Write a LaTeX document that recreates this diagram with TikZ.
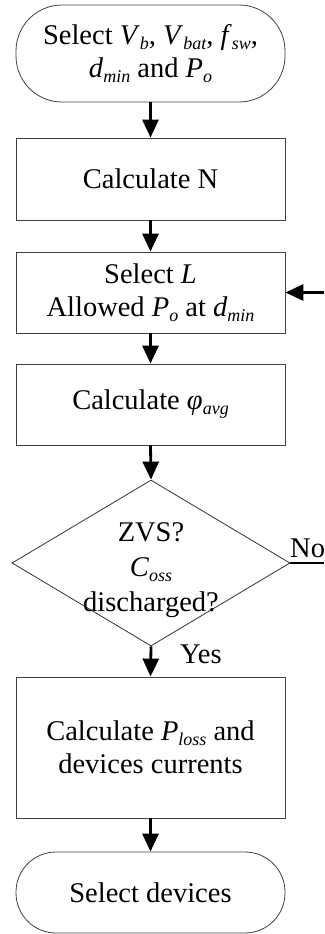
\documentclass[tikz,border=0pt]{standalone}
\usepackage{fontspec}
\setmainfont{Liberation Serif}
\usetikzlibrary{arrows.meta,shapes.geometric}
\newcommand\sbs[2]{\textit{#1}\raisebox{-5pt}{\fontsize{18}{18}\selectfont\itshape #2}}
\tikzset{
  box/.style={draw=black!75, line width=0.8pt, minimum width=269pt, inner sep=0pt, align=center, font=\fontsize{28.5}{33}\selectfont},
  term/.style={box, rounded corners=#1},
  arr/.style={line width=2.8pt, -{Triangle[length=18pt,width=16pt]}},
  lbl/.style={inner sep=0pt, font=\fontsize{28.5}{33}\selectfont},
}
\begin{document}
\begin{tikzpicture}[x=1pt,y=1pt]
\useasboundingbox (0,0) rectangle (324,-934);
\node[term=46pt, minimum height=97pt] (t1) at (150.5,-53.5) {Select \sbs{V}{b}, \sbs{V}{bat}, \sbs{f}{sw},\\ \sbs{d}{min} and \sbs{P}{o}};
\node[box, minimum height=82pt] (b1) at (150.5,-179) {Calculate N};
\node[box, minimum height=81pt] (b2) at (150.5,-292.5) {Select \textit{L}\\Allowed \sbs{P}{o} at \sbs{d}{min}};
\node[box, minimum height=81pt] (b3) at (150.5,-404.5) {Calculate \sbs{φ}{avg}};
\node[draw=black!80, line width=0.8pt, shape=diamond, minimum width=278pt, minimum height=166pt, inner sep=0pt] (d) at (151,-563) {};
\node[lbl, align=center, font=\fontsize{28.5}{35}\selectfont] (dtext) at (151,-570) {ZVS?\\ \sbs{C}{oss}\\ discharged?};
\node[box, minimum height=141pt] (b4) at (150.5,-747.5) {Calculate \sbs{P}{loss} and\\devices currents};
\node[term=40pt, minimum height=81pt] (t2) at (150.5,-892.5) {Select devices};
\coordinate (rin) at (324,-292.5);
\coordinate (nout) at (324,-563);
\node[lbl, anchor=base west] (no) at (290,-557) {No};
\node[lbl, anchor=base west] (yes) at (180,-663) {Yes};
\draw[arr] (t1.south) -- (b1.north);
\draw[arr] (b1.south) -- (b2.north);
\draw[arr] (b2.south) -- (b3.north);
\draw[arr] (b3.south) -- (d.north);
\draw[arr] (d.south) -- (b4.north);
\draw[arr] (b4.south) -- (t2.north);
\draw[arr] (rin) -- (b2.east);
\draw[line width=2.8pt] (d.east) -- (nout);
\end{tikzpicture}
\end{document}
